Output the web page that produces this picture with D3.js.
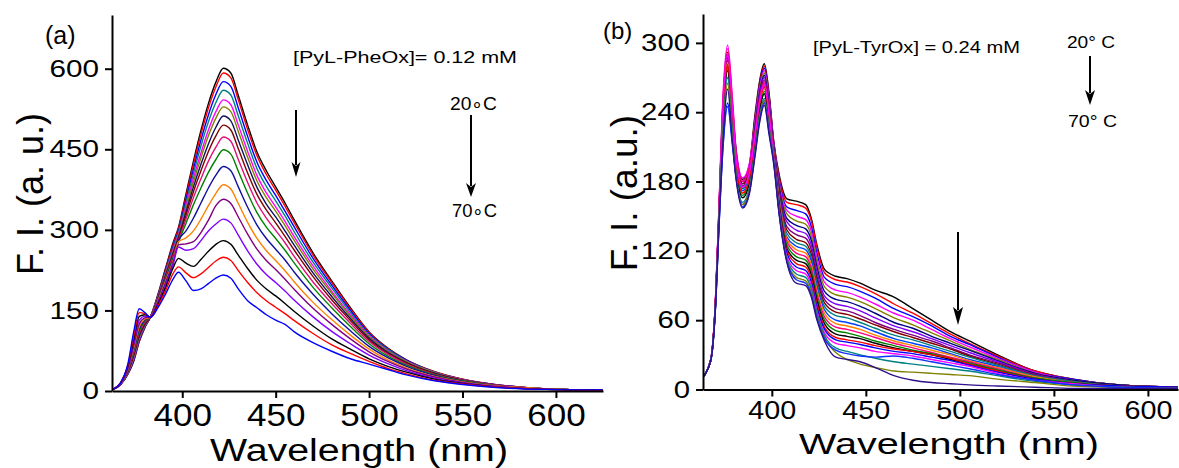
<!DOCTYPE html>
<html><head><meta charset="utf-8">
<script src="https://cdn.jsdelivr.net/npm/d3@7"></script>
<style>
body{margin:0;background:#fff}
svg{display:block}
text{font-family:"Liberation Sans",Arial,Helvetica,sans-serif;fill:#000}
</style>
</head><body>
<svg id="c" width="1179" height="468"></svg>
<script>
// ---------- Panel (a) data ----------
const waveA = [363,367,371,374,377,380,383,387,391,395,398,402,406,410,414,418,422,426,430,435,440,445,450,455,460,470,480,490,500,510,520,535,550,570,595,625];
const curvesA = [
 [3,12,32,55,92,118,138,180,228,275,305,367,428,485,535,575,601,592,550,495,445,410,380,350,318,257,205,155,110,80,58,36,22,11,4,2],
 [3,12,33,57,93,119,138,178,225,272,302,362,422,478,527,566,592,583,542,487,438,403,374,344,313,253,202,153,109,79,57,36,22,11,4,2],
 [3,12,33,58,95,120,138,177,222,268,298,356,413,467,514,552,576,567,527,474,426,392,364,335,305,247,197,150,107,78,57,35,21,11,4,2],
 [3,12,34,60,97,121,138,176,220,265,295,350,405,456,501,537,560,551,512,461,414,381,354,326,296,240,192,146,105,77,56,35,21,10,4,2],
 [3,13,35,62,99,122,138,175,218,262,292,344,396,443,486,520,542,533,495,446,401,369,343,316,287,233,186,142,103,75,55,34,21,10,4,2],
 [3,13,36,64,101,123,138,174,216,259,289,339,389,434,475,508,529,520,483,435,391,360,335,308,280,227,182,139,101,74,54,34,20,10,4,2],
 [3,13,37,66,103,124,138,173,214,256,286,333,380,422,460,491,512,503,467,421,379,348,324,298,271,220,176,135,98,72,53,33,20,10,4,2],
 [3,13,38,68,106,126,138,172,212,253,283,327,371,410,446,475,495,486,451,406,366,337,313,288,262,213,170,131,95,70,52,32,20,10,4,2],
 [3,13,39,71,109,128,138,171,210,250,280,320,360,395,428,454,473,465,431,388,350,322,299,276,250,203,163,126,92,68,50,31,19,10,4,2],
 [3,14,40,74,112,130,138,170,208,247,277,312,347,378,407,431,449,441,409,368,332,305,284,262,238,193,155,120,88,65,48,30,19,9,4,2],
 [3,14,41,77,116,132,138,169,206,244,280,298,322,350,378,402,418,410,380,342,309,284,264,244,221,180,144,112,83,62,46,29,18,9,4,2],
 [3,14,42,80,120,134,138,168,204,241,278,285,298,320,345,368,384,376,349,314,284,261,243,224,203,165,133,104,78,58,43,27,17,9,4,2],
 [3,14,43,84,125,136,138,166,201,238,272,274,278,295,318,345,357,349,324,292,264,243,226,208,189,154,124,97,73,55,41,26,16,8,3,2],
 [3,14,45,89,132,139,138,164,197,234,268,262,265,280,298,311,320,313,290,261,236,217,202,186,169,138,111,88,67,51,38,24,15,8,3,2],
 [3,15,47,95,139,142,137,161,192,228,247,238,232,245,260,273,280,273,253,228,206,190,177,163,148,121,97,78,60,46,35,22,14,7,3,2],
 [3,15,49,102,146,144,137,158,186,218,231,220,211,218,230,242,249,243,224,202,183,168,156,144,131,107,86,70,55,42,32,20,13,7,3,1],
 [3,15,52,110,153,146,137,155,180,208,221,205,187,190,200,210,216,210,190,168,155,142,132,124,110,90,74,60,50,40,30,19,12,6,3,2]
];
const colorsA = ["#000000","#ff0000","#0000ff","#008080","#ff00ff","#808000","#101060","#800000","#e0107a","#008000","#1010a0","#ff8000","#800080","#8000ff","#000000","#ff0000","#0000ff"];
const yTicksA = [0,150,300,450,600];
const xTicksA = [400,450,500,550,600];

// ---------- Panel (b) data ----------
const waveB = [363,366,368,370,372,374,376.5,379,381,384.5,388,391,393.5,396,398.5,401,404,408,413,418,421,424,428,434,440,447,455,465,475,485,495,505,520,540,560,585,620];
const curvesB = [
 [10,18,30,75,160,247,292,247,207,182,194,237,267,282,257,215,185,165,163,160,148,125,104,98,96,92,86,80,70,60,50,42,30,16,9,4,2],
 [10,18,30,74,158,243,288,243,205,180,192,235,265,280,255,214,183,162,160,157,146,123,101,95,93,89,83,74,66,57,48,40,29,16,9,4,2],
 [10,18,30,74,157,240,285,240,203,178,190,233,263,278,253,213,180,158,155,152,141,118,97,91,89,85,79,70,63,55,46,39,28,15,9,4,2],
 [10,18,31,77,163,253,298,253,208,183,195,231,261,276,251,212,178,155,150,147,137,114,93,86,84,80,74,66,60,52,44,37,27,15,8,4,2],
 [10,18,30,74,157,241,286,241,201,176,188,229,259,274,249,211,176,152,146,143,133,110,89,82,80,76,70,62,56,49,42,35,26,14,8,4,2],
 [10,18,30,73,155,235,280,235,199,174,186,227,257,272,247,210,174,148,142,139,129,106,85,78,76,72,66,58,53,46,40,34,25,14,8,4,2],
 [10,18,30,75,159,245,290,245,205,180,192,225,255,270,245,209,172,145,138,135,125,102,81,74,72,68,62,55,50,44,38,32,24,13,7,3,2],
 [10,18,30,74,156,239,284,239,201,176,188,223,253,268,243,208,170,141,134,131,121,98,78,70,68,64,58,52,47,42,36,30,23,13,7,3,2],
 [10,18,30,74,157,242,287,242,203,178,190,221,251,266,241,207,168,138,130,127,117,95,75,67,65,61,56,50,45,40,35,29,22,12,7,3,2],
 [10,18,30,73,156,237,282,237,199,174,186,219,249,264,239,206,166,135,127,124,114,92,72,64,62,58,53,47,43,38,33,28,21,12,7,3,2],
 [10,18,30,73,154,233,278,233,197,172,184,217,247,262,237,205,164,132,124,121,111,89,69,60,58,55,50,44,40,36,31,26,20,11,6,3,2],
 [10,18,30,74,156,238,283,238,195,170,182,215,245,260,235,204,163,130,121,118,108,86,66,57,55,52,47,42,38,34,30,25,19,11,6,3,2],
 [10,18,31,76,162,250,295,250,205,180,192,221,251,266,241,205,162,128,118,115,105,83,63,54,52,49,45,40,36,32,28,24,18,10,6,3,2],
 [10,18,30,73,155,235,280,235,193,168,180,213,243,258,233,203,160,125,115,112,102,80,60,51,49,46,42,38,34,31,27,23,17,10,6,3,2],
 [10,18,30,72,153,231,276,231,191,166,178,211,241,256,231,202,158,122,112,109,99,77,57,48,46,44,40,36,33,30,26,22,16,9,5,3,2],
 [10,18,30,73,155,236,281,236,195,170,182,217,247,262,237,203,157,120,109,106,96,74,54,45,43,41,38,35,33,30,27,22,16,9,5,3,2],
 [10,18,29,70,145,210,248,215,185,160,172,205,235,250,225,200,155,118,106,103,93,71,52,43,41,39,36,33,31,28,25,21,15,9,5,3,2],
 [10,18,30,75,159,245,290,245,200,175,187,219,249,264,239,201,154,115,103,100,90,68,49,40,38,36,33,31,29,26,23,20,14,8,5,2,1],
 [10,18,30,72,151,225,270,225,187,162,174,207,237,252,227,199,153,113,100,97,87,66,47,36,33,30,27,24,22,20,18,16,12,7,4,2,1],
 [10,18,29,71,149,220,265,220,185,160,172,205,235,250,225,198,152,112,97,94,84,63,45,32,26,22,19,16,15,14,13,12,9,6,3,2,1],
 [10,18,29,70,144,208,245,212,183,158,170,203,233,248,223,197,151,111,95,92,82,62,44,34,31,29,28,29,27,24,21,18,13,8,4,2,1],
 [10,18,29,70,147,215,260,215,182,157,169,201,231,246,221,195,150,110,92,90,80,60,42,28,26,24,19,12,8,6,5,4,3,2,1,1,1]
];
const colorsB = ["#000000","#ff0000","#0000ff","#ff00ff","#808000","#000080","#8000ff","#800080","#800000","#008080","#0040ff","#ff8000","#ff0080","#008000","#000000","#ff0000","#0000ff","#ff00ff","#008080","#808000","#1030ff","#30108a"];
const yTicksB = [0,60,120,180,240,300];
const xTicksB = [400,450,500,550,600];

const svg = d3.select("#c");

function panel(o){
  const x = d3.scaleLinear().domain(o.xDom).range([o.left,o.right]);
  const y = d3.scaleLinear().domain(o.yDom).range([o.bottom,o.top]);
  const g = svg.append("g");
  const cid = "clip"+o.id;
  svg.append("clipPath").attr("id",cid).append("rect")
    .attr("x",o.left).attr("y",o.top).attr("width",o.right-o.left).attr("height",o.bottom-o.top);
  const line = d3.line().x((d,i)=>x(o.wave[i])).y(d=>y(d)).curve(d3.curveMonotoneX);
  const cg = g.append("g").attr("clip-path","url(#"+cid+")");
  o.curves.forEach((c,i)=>{
    cg.append("path").attr("d",line(c)).attr("fill","none")
      .attr("stroke",o.colors[i]).attr("stroke-width",1.4).attr("stroke-linejoin","round");
  });
  const ya = g.append("g").attr("transform",`translate(${o.left},0)`)
    .call(d3.axisLeft(y).tickValues(o.yTicks).tickSize(7).tickSizeOuter(0).tickPadding(6));
  const xa = g.append("g").attr("transform",`translate(0,${o.bottom})`)
    .call(d3.axisBottom(x).tickValues(o.xTicks).tickSize(7).tickSizeOuter(0).tickPadding(o.xPad));
  [ya,xa].forEach(a=>{
    a.selectAll("path,line").attr("stroke","#000").attr("stroke-width",2);
    a.selectAll("text").style("font-family",'"Liberation Sans",Arial,sans-serif').attr("fill","#000")
      .attr("lengthAdjust","spacingAndGlyphs");
  });
  ya.selectAll("text").style("font-size",o.yFont+"px")
    .attr("textLength",d=>String(d).length*o.yDigitW);
  xa.selectAll("text").style("font-size",o.xFont+"px")
    .attr("textLength",d=>String(d).length*o.xDigitW);
  // axis titles
  g.append("text").attr("transform",`translate(${o.yTitleX},${o.yTitleY}) rotate(-90)`)
    .attr("text-anchor","middle").style("font-size",o.yTitleFont+"px").text(o.yTitle);
  g.append("text").attr("x",o.xTitleX).attr("y",o.xTitleY).attr("text-anchor","middle")
    .style("font-size",o.xTitleFont+"px").attr("textLength",o.xTitleLen).attr("lengthAdjust","spacingAndGlyphs").text("Wavelength (nm)");
  return {x,y};
}

function arrow(x,y1,y2,hl,hw){
  svg.append("line").attr("x1",x).attr("x2",x).attr("y1",y1).attr("y2",y2-hl+3)
    .attr("stroke","#000").attr("stroke-width",2);
  svg.append("path").attr("d",`M${x-hw},${y2-hl} L${x},${y2-hl+4} L${x+hw},${y2-hl} L${x},${y2} Z`).attr("fill","#000");
}
function label(t,x,y,size,len){
  const s = svg.append("text").attr("x",x).attr("y",y).style("font-size",size+"px").text(t);
  if(len) s.attr("textLength",len).attr("lengthAdjust","spacingAndGlyphs");
  return s;
}

panel({id:"a",wave:waveA,curves:curvesA,colors:colorsA,xDom:[362.4,625.2],yDom:[0,700],
  left:112,right:603,top:15,bottom:391,yTicks:yTicksA,xTicks:xTicksA,xPad:6,
  yFont:24,yDigitW:16.5,xFont:31,xDigitW:19.5,yTitle:"F. I. (a. u.)",yTitleX:43,yTitleY:194,yTitleFont:36,
  xTitleX:359,xTitleY:461,xTitleFont:31,xTitleLen:298});
panel({id:"b",wave:waveB,curves:curvesB,colors:colorsB,xDom:[363.4,616],yDom:[0,325],
  left:703,right:1178,top:14,bottom:389.5,yTicks:yTicksB,xTicks:xTicksB,xPad:5,
  yFont:24,yDigitW:16.3,xFont:25,xDigitW:16,yTitle:"F. I. (a.u.)",yTitleX:637,yTitleY:193,yTitleFont:37,
  xTitleX:949,xTitleY:454,xTitleFont:30,xTitleLen:300});

// annotations panel (a)
label("(a)",45,44,25);
label("[PyL-PheOx]= 0.12 mM",293,63,16,224);
label("20\u2218C",450,110,18,47);
label("70\u2218C",452,217,18,45);
arrow(296,110,177,15,4.5);
arrow(471,115,197,14,5);
// annotations panel (b)
label("(b)",603,39,24);
label("[PyL-TyrOx] = 0.24 mM",813,53,16,207);
label("20\u00b0 C",1067,48,16,48);
label("70\u00b0 C",1068,127,16,49);
arrow(1090,56,105,15,5);
arrow(958,232,325,18,5);
</script>
</body></html>
